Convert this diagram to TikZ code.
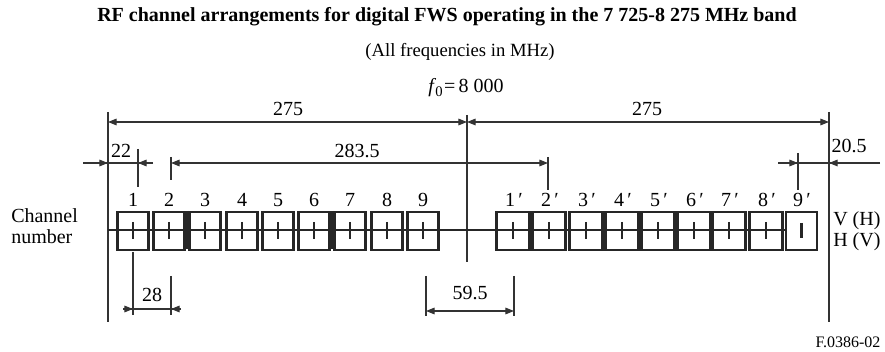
\documentclass[tikz,border=0pt]{standalone}
\usepackage{fontspec}
\setmainfont{Liberation Serif}
\usetikzlibrary{arrows.meta}
\begin{document}
\begin{tikzpicture}[x=0.75pt,y=-0.75pt,
  tri/.tip={Triangle[length=6.5pt,width=5pt]},
  ln/.style={draw=black!80,line width=0.8pt},
  dimln/.style={draw=black!80,line width=0.8pt},
  chbox/.style={draw=black!85,line width=1.8pt,minimum width=23.5pt,minimum height=28.5pt,inner sep=0pt},
  tk/.style={draw=black!85,line width=1.5pt},
  cl/.style={draw=black!85,line width=1.5pt},
  txt/.style={font=\fontsize{15}{17}\selectfont,anchor=base,inner sep=0pt},
  num/.style={font=\fontsize{15}{17}\selectfont,anchor=base,inner sep=0pt}]
\useasboundingbox (0,0) rectangle (885,352);
% titles
\node[anchor=base,inner sep=0pt,font=\bfseries\fontsize{15}{18}\selectfont] (title) at (447,22) {RF channel arrangements for digital FWS operating in the 7 725-8 275 MHz band};
\node[anchor=base,inner sep=0pt,font=\fontsize{14}{17}\selectfont] (sub) at (460,57) {(All frequencies in MHz)};
\node[txt] (f0) at (466,93) {\textit{f}\kern-0.5pt\raisebox{-0.35ex}{\fontsize{11}{12}\selectfont 0}\kern1pt=\,8 000};
% reference lines
\coordinate (Ltop) at (108,112); \coordinate (Lbot) at (108,322);
\coordinate (Ctop) at (467,115); \coordinate (Cbot) at (467,262);
\coordinate (Rtop) at (829,112); \coordinate (Rbot) at (829,322);
\draw[ln] (Ltop) -- (Lbot);
\draw[ln] (Ctop) -- (Cbot);
\draw[ln] (Rtop) -- (Rbot);
% 275 arrows
\coordinate (A1) at (108,122); \coordinate (A2) at (467,122); \coordinate (A3) at (829,122);
\draw[dimln,tri-tri] (A1) -- (A2);
\draw[dimln,tri-tri] (A2) -- (A3);
\node[txt] (d275a) at (288,116) {275};
\node[txt] (d275b) at (647,116) {275};
% channel boxes
\coordinate (CL) at (108,230);
\foreach \n/\x in {1/133,2/169,3/205,4/242,5/278,6/314,7/350,8/387,9/423}{
  \node[chbox] (c\n) at (\x,231) {};
  \node[num] (l\n) at (\x,207) {\n};
}
\foreach \n/\x in {1/513,2/549,3/586,4/622,5/658,6/694,7/729,8/766}{
  \node[chbox,minimum width=25pt] (p\n) at (\x,231) {};
  \node[num] (lp\n) at (\x+1,207) {\n\,′};
}
\node[chbox,minimum width=23.5pt] (p9) at (801.5,231) {};
\node[num] (lp9) at (802,207) {9\,′};
% thick shared borders
\draw[draw=black!85,line width=3pt] (c2.north east) ++(1.3,0) -- ++(0,38);
\draw[draw=black!85,line width=3pt] (c6.north east) ++(1.3,0) -- ++(0,38);
\draw[cl] (CL) -- (p9.west |- CL);
\foreach \b in {c1,c2,c3,c4,c5,c6,c7,c8,c9,p1,p2,p3,p4,p5,p6,p7,p8}{
  \draw[tk] (\b.center) ++(0,-9) -- ++(0,17);
}
\draw[draw=black!85,line width=2pt] (p9.center) ++(0,-8) -- ++(0,15);
% side labels
\node[anchor=base west,inner sep=0pt,font=\fontsize{15}{17}\selectfont] (ch1) at (11,223) {Channel};
\node[anchor=base west,inner sep=0pt,font=\fontsize{15}{17}\selectfont] (ch2) at (11,244) {number};
\node[anchor=base west,inner sep=0pt,font=\fontsize{15}{17}\selectfont] (vh) at (833,226) {V (H)};
\node[anchor=base west,inner sep=0pt,font=\fontsize{15}{17}\selectfont] (hv) at (833,247) {H (V)};
% 22
\coordinate (t22a) at (138,149); \coordinate (t22b) at (138,187);
\draw[ln] (t22a) -- (t22b);
\coordinate (d22L) at (83,163); \coordinate (d22M) at (108,163);
\coordinate (d22N) at (138,163); \coordinate (d22R) at (153,163);
\draw[dimln] (d22L) -- (d22R);
\draw[dimln,-tri] (d22L) -- (d22M);
\draw[dimln,-tri] (d22R) -- (d22N);
\node[txt] (l22) at (121,158) {22};
% 283.5
\coordinate (t283a) at (171,157); \coordinate (t283b) at (171,180);
\coordinate (t283c) at (548,157); \coordinate (t283d) at (548,190);
\draw[ln] (t283a) -- (t283b);
\draw[ln] (t283c) -- (t283d);
\draw[dimln,tri-tri] (171,163) -- (548,163);
\node[txt] (l283) at (357,158) {283.5};
% 20.5
\coordinate (t205a) at (798,153); \coordinate (t205b) at (798,190);
\draw[ln] (t205a) -- (t205b);
\coordinate (d205L) at (778,163); \coordinate (d205M) at (798,163);
\coordinate (d205N) at (829,163); \coordinate (d205R) at (880,163);
\draw[dimln] (d205L) -- (d205R);
\draw[dimln,-tri] (d205L) -- (d205M);
\draw[dimln,-tri] (d205R) -- (d205N);
\node[txt] (l205) at (849,153) {20.5};
% 28
\coordinate (t28a) at (133,252); \coordinate (t28b) at (133,315);
\coordinate (t28c) at (171,276); \coordinate (t28d) at (171,315);
\draw[ln] (t28a) -- (t28b);
\draw[ln] (t28c) -- (t28d);
\coordinate (d28L) at (123,309); \coordinate (d28M) at (133,309);
\coordinate (d28N) at (171,309); \coordinate (d28R) at (181,309);
\draw[dimln] (d28L) -- (d28R);
\draw[dimln,-tri] (d28L) -- (d28M);
\draw[dimln,-tri] (d28R) -- (d28N);
\node[txt] (l28) at (152,302) {28};
% 59.5
\coordinate (t59a) at (426,276); \coordinate (t59b) at (426,316);
\coordinate (t59c) at (514,276); \coordinate (t59d) at (514,316);
\draw[ln] (t59a) -- (t59b);
\draw[ln] (t59c) -- (t59d);
\draw[dimln,tri-tri] (426,311) -- (514,311);
\node[txt] (l59) at (470,300) {59.5};
% figure number
\node[anchor=base,inner sep=0pt,font=\fontsize{12}{14}\selectfont] (fig) at (848,348) {F.0386-02};
\end{tikzpicture}
\end{document}
